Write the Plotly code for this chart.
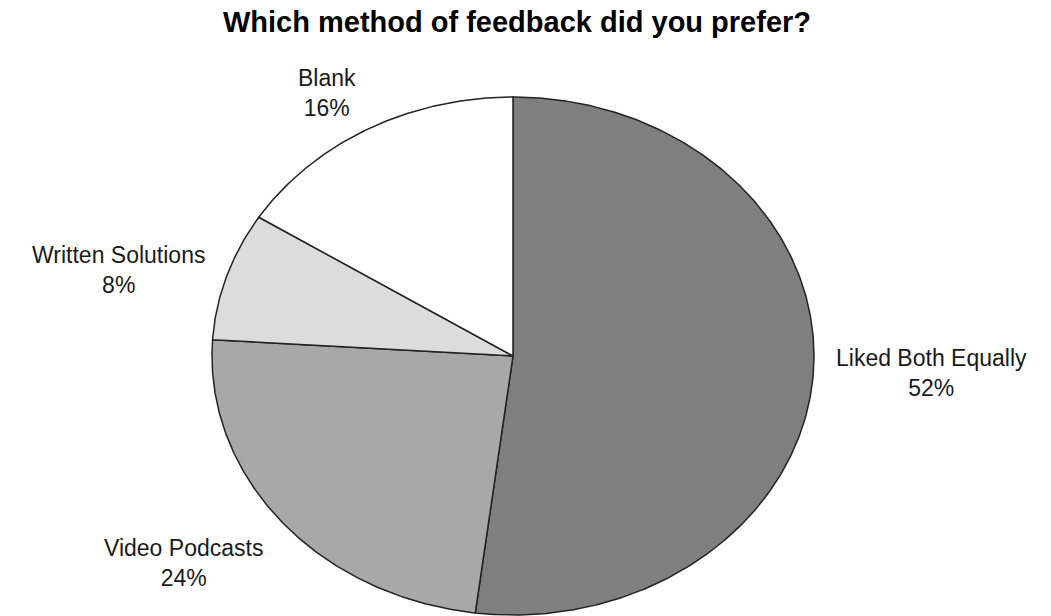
import numpy as np
import plotly.graph_objects as go

# ---- data ----
categories = ["Liked Both Equally", "Video Podcasts", "Written Solutions", "Blank"]
percents = [52, 24, 8, 16]
colors = ["#7f7f7f", "#a8a8a8", "#dcdcdc", "#ffffff"]
title_text = "Which method of feedback did you prefer?"

W, H = 1051, 616
# pie centre in pixels and ellipse radii (the reference pie is stretched horizontally)
cx_px, cy_px, rx_px, ry_px = 513, 356, 301, 259
x_range = [-cx_px / rx_px, (W - cx_px) / rx_px]
y_range = [-(H - cy_px) / ry_px, cy_px / ry_px]

fig = go.Figure()
total = float(sum(percents))
start = 0.0  # clockwise angle from 12 o'clock, in degrees
annotations = []
for cat, val, col in zip(categories, percents, colors):
    sweep = 360.0 * val / total
    angs = np.radians(np.linspace(start, start + sweep, max(int(sweep * 2), 4)))
    xs = np.concatenate([[0], np.sin(angs), [0]])
    ys = np.concatenate([[0], np.cos(angs), [0]])
    fig.add_trace(go.Scatter(
        x=xs, y=ys, mode="lines", fill="toself", fillcolor=col,
        line=dict(color="#222222", width=1.5), name=cat,
        hoverinfo="text", text=f"{cat}: {val}%", hoveron="fills",
    ))
    mid = np.radians(start + sweep / 2)
    ux, uy = np.sin(mid), np.cos(mid)
    r = 1.07
    xa = "right" if ux < -0.3 else ("left" if ux > 0.3 else "center")
    ya = "bottom" if uy > 0.5 else ("top" if uy < -0.5 else "middle")
    ys_shift = -10 if ya == "bottom" else 0
    annotations.append(dict(
        x=r * ux, y=r * uy, xref="x", yref="y", text=f"{cat}<br>{val}%",
        showarrow=False, xanchor=xa, yanchor=ya, align="center", yshift=ys_shift,
        font=dict(family="Liberation Sans, Arial, sans-serif", size=23, color="#1a1a1a"),
    ))
    start += sweep

fig.update_layout(
    width=W, height=H,
    margin=dict(l=0, r=0, t=0, b=0),
    paper_bgcolor="white", plot_bgcolor="white",
    showlegend=False,
    title=dict(text=f"<b>{title_text}</b>", x=517 / W, xanchor="center",
               y=1 - 22 / H, yanchor="middle", yref="container",
               font=dict(family="Liberation Sans, Arial, sans-serif", size=29, color="#000000")),
    xaxis=dict(range=x_range, visible=False, fixedrange=True),
    yaxis=dict(range=y_range, visible=False, fixedrange=True),
    annotations=annotations,
)

fig.write_html("out.html")
